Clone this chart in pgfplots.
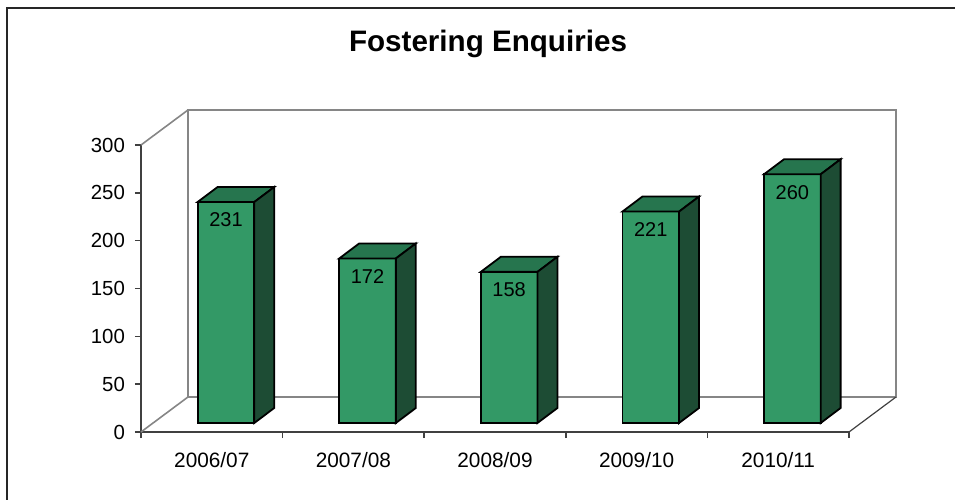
\documentclass[border=0pt]{standalone}
\usepackage{fontspec}
\setmainfont{Liberation Sans}
\usepackage{pgfplots}
\usepackage{pgfplotstable}
\pgfplotsset{compat=1.18}

\definecolor{barfront}{RGB}{51,153,102}
\definecolor{bartop}{RGB}{38,117,78}
\definecolor{barside}{RGB}{29,76,52}
\definecolor{wallgray}{RGB}{134,134,134}
\definecolor{axisgray}{RGB}{64,64,64}

\pgfplotstableread{
idx v
0 231
1 172
2 158
3 221
4 260
}\enquiries

\pgfplotsset{barface/.style={draw=black, line width=0.9pt, mark=none, forget plot}}

% back wall sits 0.332 x-units right and 36.6 y-units up from the front plane;
% bars fill the depth from about 0.26 to 0.69 of it
\begin{document}
\begin{tikzpicture}
\path[use as bounding box] (-70.5pt,-33.5pt) rectangle (407pt,216pt);
\draw[black!85, line width=0.9pt] (-67pt,-40pt) -- (-67pt,212pt) -- (410pt,212pt);
\begin{axis}[
  scale only axis, width=354pt, height=143.5pt,
  xmin=0, xmax=5, ymin=0, ymax=300,
  clip=false,
  axis x line*=bottom, axis y line*=left,
  axis line style={axisgray, line width=0.8pt},
  tick style={axisgray, line width=0.8pt},
  tick align=outside, major tick length=3pt,
  ytick={0,50,...,300},
  xtick={0,...,5},
  x tick label as interval,
  xticklabels={2006/07,2007/08,2008/09,2009/10,2010/11},
  /pgf/number format/assume math mode=true,
  yticklabel style={font=\fontsize{10.2}{12}\selectfont, xshift=-1.5pt},
  xticklabel style={font=\fontsize{10.4}{12}\selectfont, yshift=-3.5pt},
]
\draw[wallgray, line width=0.8pt] (axis cs:0.332,36.6) rectangle (axis cs:5.332,336.6);
\draw[wallgray, line width=0.8pt] (axis cs:0,300) -- (axis cs:0.332,336.6);
\draw[wallgray, line width=0.8pt] (axis cs:0,0) -- (axis cs:0.332,36.6);
\draw[axisgray, line width=0.6pt] (axis cs:5,0) -- (axis cs:5.332,36.6);

\pgfplotsinvokeforeach{0,...,4}{
  \pgfplotstablegetelem{#1}{v}\of\enquiries
  \pgfmathsetmacro\xa{#1+0.4}
  \pgfmathsetmacro\xb{#1+0.8}
  \pgfmathsetmacro\xc{#1+0.941}
  \pgfmathsetmacro\xd{#1+0.541}
  \pgfmathsetmacro\yt{\pgfplotsretval+9.4}
  \pgfmathsetmacro\yu{\pgfplotsretval+25.1}
  \edef\bars{%
    \noexpand\addplot[barface, fill=barfront] coordinates {(\xa,9.4) (\xb,9.4) (\xb,\yt) (\xa,\yt)} -- cycle;
    \noexpand\addplot[barface, fill=bartop] coordinates {(\xa,\yt) (\xb,\yt) (\xc,\yu) (\xd,\yu)} -- cycle;
    \noexpand\addplot[barface, fill=barside] coordinates {(\xb,9.4) (\xc,25.1) (\xc,\yu) (\xb,\yt)} -- cycle;
  }\bars
}

\addplot[draw=none, mark=none, nodes near coords, point meta=explicit,
  nodes near coords style={font=\fontsize{10}{12}\selectfont, anchor=center, yshift=-9pt, black}]
  table[x expr=\thisrow{idx}+0.6, y expr=\thisrow{v}+9.4, meta=v] {\enquiries};
\end{axis}
\node[font=\bfseries\fontsize{14.8}{18}\selectfont, anchor=base] at (173.5pt,190pt) {Fostering Enquiries};
\end{tikzpicture}
\end{document}
